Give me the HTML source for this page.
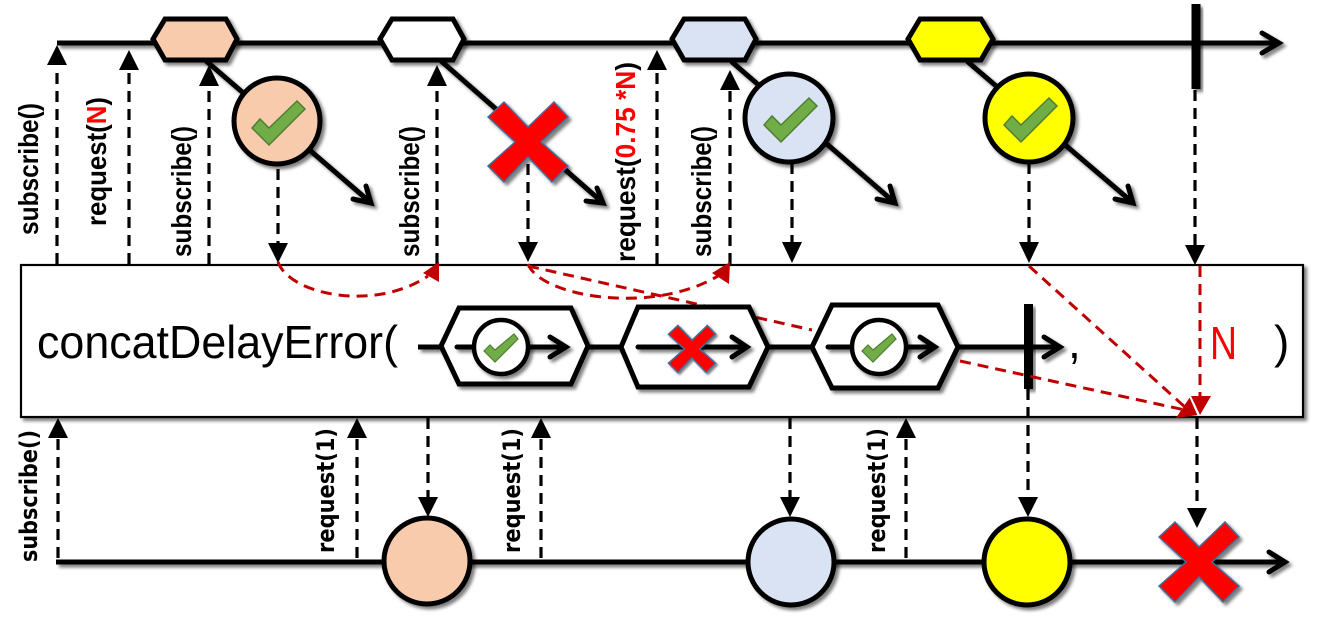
<!DOCTYPE html>
<html><head><meta charset="utf-8"><style>html,body{margin:0;padding:0;background:#fff}svg{display:block}</style></head><body>
<svg xmlns="http://www.w3.org/2000/svg" width="1325" height="620" viewBox="0 0 1325 620">
<defs>
<filter id="s" x="-20%" y="-20%" width="150%" height="150%"><feDropShadow dx="3" dy="3" stdDeviation="1.7" flood-color="#000" flood-opacity=".5"/></filter>
<filter id="l" filterUnits="userSpaceOnUse" x="0" y="0" width="1325" height="620"><feDropShadow dx="3" dy="3" stdDeviation="1.7" flood-color="#000" flood-opacity=".5"/></filter>
</defs>

<!-- main box -->
<rect x="21" y="265" width="1282" height="152" fill="#fff" stroke="#000" stroke-width="2.2" filter="url(#l)"/>

<!-- top lines -->
<g fill="none" stroke="#000" stroke-width="5" filter="url(#l)">
<path d="M57 43H1278"/><path d="M1262 33L1279 43L1262 53" stroke-linecap="round"/>
<path d="M205 60L370 202M353 199L371 203L366 186" stroke-linecap="round"/>
<path d="M440 60L602 202M586 201L603 203L597 188" stroke-linecap="round"/>
<path d="M732 62L894 202M877 199L895 203L890 186" stroke-linecap="round"/>
<path d="M968 62L1132 202M1115 199L1133 203L1128 186" stroke-linecap="round"/>
</g>
<g stroke="#000" stroke-width="5" filter="url(#s)">
<polygon points="153,39 165,19 226,19 237,39 226,60 165,60" fill="#f8cbad"/>
<polygon points="380,39 392,19 453,19 464,39 453,60 392,60" fill="#fff"/>
<polygon points="672,39 684,19 745,19 756,39 745,60 684,60" fill="#dae3f3"/>
<polygon points="908,39 920,19 981,19 993,39 981,60 920,60" fill="#ff0"/>
<circle cx="277" cy="121" r="43" fill="#f8cbad"/>
<circle cx="789" cy="118" r="44" fill="#dae3f3"/>
<circle cx="1029" cy="118" r="44" fill="#ff0"/>
</g>
<g fill="#70ad47" stroke="#507e32" stroke-width="1.5">
<polygon points="252,128 260,119 269,128 297,101 305,109 269,145"/>
<polygon points="764,125 772,116 781,125 809,98 817,106 781,142"/>
<polygon points="1004,125 1012,116 1021,125 1049,98 1057,106 1021,142"/>
</g>
<polygon filter="url(#s)" transform="translate(528,142)" points="-40,-25 -24,-40 0,-15 26,-40 40,-25 13,0 40,24 24,40 0,15 -24,40 -40,24 -13,0" fill="#f00" stroke="#41719c" stroke-width="1.5"/>
<rect x="1191.500" y="4" width="9" height="85" fill="#000" filter="url(#s)"/>

<!-- black dashed top -->
<g fill="none" stroke="#000" stroke-width="3.2" stroke-dasharray="11 7">
<path d="M57 264V66"/><path d="M129 264V71"/><path d="M209 264V87"/><path d="M437 264V87"/><path d="M657 264V71"/><path d="M730 264V91"/>
<path d="M278 169V244"/><path d="M528 164V244"/><path d="M792 163V244"/><path d="M1029 163V244"/><path d="M1195 90V246"/>
</g>
<g fill="#000">
<polygon points="57,45 47,65 67,65"/><polygon points="129,50 119,70 139,70"/><polygon points="209,65 199,86 219,86"/><polygon points="437,65 427,86 447,86"/><polygon points="657,50 647,70 667,70"/><polygon points="730,70 720,90 740,90"/>
<polygon points="278,263 268,243 288,243"/><polygon points="528,262 518,242 538,242"/><polygon points="792,263 782,242 802,242"/><polygon points="1029,263 1019,242 1039,242"/><polygon points="1195,265 1185,245 1205,245"/>
</g>

<!-- red line behind hexagons -->
<path d="M528 266L812 330" fill="none" stroke="#c00000" stroke-width="3" stroke-dasharray="11 7"/>

<!-- inner marbles -->
<g fill="none" stroke="#000" stroke-width="5" filter="url(#l)">
<path d="M418 347H440M588 347H620M768 347H811M958 347H1058"/>
<path d="M1044 337L1060 347L1044 357" stroke-linecap="round"/>
</g>
<g stroke="#000" stroke-width="5" fill="#fff" filter="url(#s)">
<polygon points="441,346 459,308 571,308 588,346 571,384 459,384"/>
<polygon points="621,347 638,307 749,307 768,347 749,387 638,387"/>
<polygon points="812,347 832,305 938,305 958,347 938,388 832,388"/>
</g>
<g fill="none" stroke="#000" stroke-width="5" filter="url(#l)">
<path d="M457 347H565M550 337L566 347L550 357" stroke-linecap="round"/>
<path d="M638 347H746M732 337L747 347L732 357" stroke-linecap="round"/>
<path d="M828 347H934M920 337L935 347L920 357" stroke-linecap="round"/>
</g>
<g stroke="#000" stroke-width="4.500" fill="#fff" filter="url(#s)">
<circle cx="501" cy="347" r="27"/><circle cx="879" cy="347" r="27"/>
</g>
<g fill="#70ad47" stroke="#507e32" stroke-width="1.2">
<polygon points="484,351 490,345 495,350 514,334 518,339 495,362"/>
<polygon points="862,351 868,345 873,350 892,334 896,339 873,362"/>
</g>
<polygon filter="url(#s)" transform="translate(692,349) scale(.59)" points="-40,-25 -24,-40 0,-15 26,-40 40,-25 13,0 40,24 24,40 0,15 -24,40 -40,24 -13,0" fill="#f00" stroke="#41719c" stroke-width="2.5"/>
<rect x="1024" y="304" width="9" height="85" fill="#000" filter="url(#s)"/>

<!-- red dashed -->
<g fill="none" stroke="#c00000" stroke-width="3" stroke-dasharray="11 7">
<path d="M278 262C290 295 375 312 428 276"/>
<path d="M528 264C540 296 650 316 718 276"/>
<path d="M960 361L1185 410"/>
<path d="M1029 266L1186 408"/>
<path d="M1200 266V400"/>
</g>
<g fill="#c00000">
<polygon points="439,262 423,273 439,282"/>
<polygon points="730,262 712,273 729,284"/>
<polygon points="1176,418 1190,397 1198,415"/>
<polygon points="1191,396 1211,396 1200,415"/>
</g>
<path d="M1190 397L1198 415" stroke="#fff" stroke-width="1.2" fill="none"/>

<!-- bottom -->
<g fill="none" stroke="#000" stroke-width="3.2" stroke-dasharray="11 7">
<path d="M58 558V439"/><path d="M357 558V439"/><path d="M541 558V439"/><path d="M906 558V439"/>
<path d="M428 418V498"/><path d="M790 418V498"/><path d="M1028 389V498"/><path d="M1197 418V509"/>
</g>
<g fill="#000">
<polygon points="58,418 48,438 68,438"/><polygon points="357,418 347,438 367,438"/><polygon points="541,418 531,438 551,438"/><polygon points="906,418 896,438 916,438"/>
<polygon points="428,517 418,497 438,497"/><polygon points="790,517 780,497 800,497"/><polygon points="1028,517 1018,497 1038,497"/><polygon points="1197,528 1187,508 1207,508"/>
</g>
<g fill="none" stroke="#000" stroke-width="5" filter="url(#l)">
<path d="M56 562H1284"/><path d="M1269 552L1285 562L1269 572" stroke-linecap="round"/>
</g>
<g stroke="#000" stroke-width="5" filter="url(#s)">
<circle cx="427" cy="561" r="43" fill="#f8cbad"/>
<circle cx="791" cy="562" r="43" fill="#dae3f3"/>
<circle cx="1027" cy="562" r="43" fill="#ff0"/>
</g>
<polygon filter="url(#s)" transform="translate(1199,562)" points="-40,-25 -24,-40 0,-15 26,-40 40,-25 13,0 40,24 24,40 0,15 -24,40 -40,24 -13,0" fill="#f00" stroke="#41719c" stroke-width="1.5"/>

<!-- text -->
<g font-family="'Liberation Sans',sans-serif" font-weight="bold" font-size="28" fill="#000">
<text transform="translate(38,235) rotate(-90)" textLength="132" lengthAdjust="spacingAndGlyphs">subscribe()</text>
<text transform="translate(106,226) rotate(-90)" textLength="129" lengthAdjust="spacingAndGlyphs">request(<tspan fill="#f00">N</tspan>)</text>
<text transform="translate(191,257) rotate(-90)" textLength="131" lengthAdjust="spacingAndGlyphs">subscribe()</text>
<text transform="translate(419,257) rotate(-90)" textLength="131" lengthAdjust="spacingAndGlyphs">subscribe()</text>
<text transform="translate(635,262) rotate(-90)" textLength="200" lengthAdjust="spacingAndGlyphs">request(<tspan fill="#f00">0.75 *N</tspan>)</text>
<text transform="translate(711,257) rotate(-90)" textLength="131" lengthAdjust="spacingAndGlyphs">subscribe()</text>
</g>
<g font-family="'DejaVu Sans',sans-serif" font-weight="bold" font-size="24" fill="#000">
<text transform="translate(37,562) rotate(-90)" textLength="132" lengthAdjust="spacingAndGlyphs">subscribe()</text>
<text transform="translate(334,553) rotate(-90)" textLength="125" lengthAdjust="spacingAndGlyphs">request(1)</text>
<text transform="translate(520,553) rotate(-90)" textLength="125" lengthAdjust="spacingAndGlyphs">request(1)</text>
<text transform="translate(885,553) rotate(-90)" textLength="125" lengthAdjust="spacingAndGlyphs">request(1)</text>
</g>
<g font-family="'Liberation Sans',sans-serif" font-size="46" fill="#000">
<text x="37" y="358" textLength="361" lengthAdjust="spacingAndGlyphs">concatDelayError(</text>
<text x="1068" y="358">,</text>
<text x="1274" y="358">)</text>
<text x="1210" y="359" fill="#f00" textLength="27" lengthAdjust="spacingAndGlyphs">N</text>
</g>
</svg>
</body></html>
